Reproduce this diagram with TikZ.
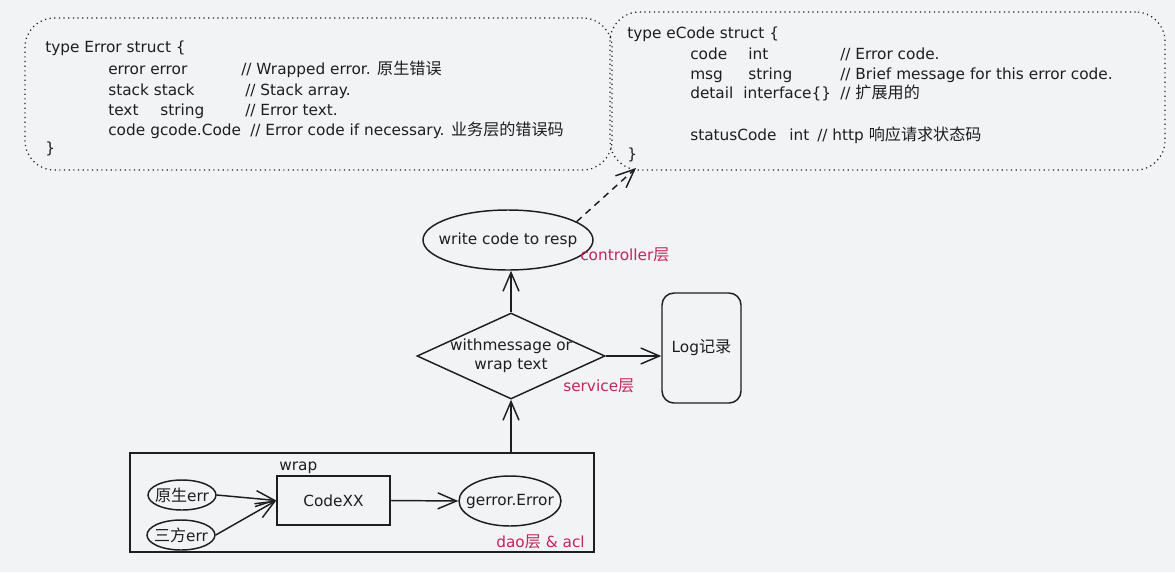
\documentclass[tikz,border=0pt]{standalone}
\usepackage{fontspec}
\setmainfont{DejaVu Sans}
\newfontfamily\cjk{Noto Sans CJK SC}[Scale=1.05]
\usetikzlibrary{shapes.geometric,arrows.meta}
\definecolor{bg}{HTML}{F2F3F5}
\definecolor{ink}{HTML}{1E1E1E}
\definecolor{pinkc}{HTML}{C2255C}
\begin{document}
\begin{tikzpicture}[x=0.75pt,y=-0.75pt,
  ln/.style={draw=ink,line width=1.1pt},
  arr/.style={ln,-{Straight Barb[length=14pt,width=12pt,line width=1.1pt]}},
  code/.style={anchor=base west,inner sep=0pt,font=\fontsize{11.5}{13}\selectfont,text=ink},
  lbl/.style={font=\fontsize{11.5}{14}\selectfont,text=ink,align=center},
  tag/.style={anchor=base west,inner sep=0pt,text=pinkc,font=\fontsize{11.5}{13}\selectfont},
  dotbox/.style={draw=ink,line width=0.9pt,dash pattern=on 0.9pt off 2.6pt,rounded corners=22pt,inner sep=0pt,outer sep=0pt}
]
\useasboundingbox (0,0) rectangle (1175,572);
\fill[bg] (0,0) rectangle (1175,572);

% struct boxes
\node[dotbox,minimum width=440.25pt,minimum height=114pt] (errbox) at (318.5,94) {};
\node[dotbox,minimum width=416.25pt,minimum height=118.5pt] (ecodebox) at (887.5,91) {};

% Error struct text
\node[code] (e0) at (45,52) {type Error struct \{};
\node[code] (e1a) at (108,74) {error error};
\node[code] (e1b) at (241,74) {// Wrapped error. {\cjk 原生错误}};
\node[code] (e2a) at (108,95) {stack stack};
\node[code] (e2b) at (245,95) {// Stack array.};
\node[code] (e3a) at (108,115) {text};
\node[code] (e3b) at (160,115) {string};
\node[code] (e3c) at (245,115) {// Error text.};
\node[code] (e4a) at (108,135) {code};
\node[code] (e4b) at (150,135) {gcode.Code};
\node[code] (e4c) at (250,135) {// Error code if necessary. {\cjk 业务层的错误码}};
\node[code] (e5) at (45,153) {\}};

% eCode struct text
\node[code] (c0) at (627,38) {type eCode struct \{};
\node[code] (c1a) at (690,59) {code};
\node[code] (c1b) at (748,59) {int};
\node[code] (c1c) at (840,59) {// Error code.};
\node[code] (c2a) at (690,79) {msg};
\node[code] (c2b) at (748,79) {string};
\node[code] (c2c) at (840,79) {// Brief message for this error code.};
\node[code] (c3a) at (690,98) {detail};
\node[code] (c3b) at (743,98) {interface\{\}};
\node[code] (c3c) at (840,98) {// {\cjk 扩展用的}};
\node[code] (c4a) at (690,140) {statusCode};
\node[code] (c4b) at (789,140) {int};
\node[code] (c4c) at (817,140) {// http {\cjk 响应请求状态码}};
\node[code] (c5) at (627,159) {\}};

% flow nodes
\node[ellipse,ln,lbl,minimum width=127.5pt,minimum height=45pt,inner ysep=0pt,inner xsep=-7pt] (resp) at (508,240) {write code to resp};
\node[tag] (ctrl) at (580,260) {controller{\cjk 层}};

\node[diamond,ln,lbl,aspect=2.2,minimum width=141pt,minimum height=64.5pt,inner sep=-1.5pt] (dia) at (511,356) {withmessage or\\wrap text};
\node[tag] (serv) at (563,391) {service{\cjk 层}};

\node[rectangle,ln,lbl,rounded corners=9pt,minimum width=59.25pt,minimum height=82.5pt] (log) at (701.5,348) {Log{\cjk 记录}};

\node[rectangle,ln,minimum width=348pt,minimum height=74.25pt] (dao) at (362,502.5) {};
\node[code] (wrap) at (279,470) {wrap};
\node[rectangle,ln,lbl,minimum width=84.75pt,minimum height=36.75pt] (code) at (333.5,500.5) {CodeXX};
\node[ellipse,ln,lbl,minimum width=51pt,minimum height=22.5pt,inner ysep=0pt,inner xsep=-3pt] (yuan) at (182,495) {{\cjk 原生}err};
\node[ellipse,ln,lbl,minimum width=51pt,minimum height=22.5pt,inner ysep=0pt,inner xsep=-3pt] (san) at (181,535) {{\cjk 三方}err};
\node[ellipse,ln,lbl,minimum width=76.5pt,minimum height=37.5pt,inner ysep=0pt,inner xsep=-6pt] (gerr) at (510,501) {gerror.Error};
\node[tag,anchor=base east] (daotag) at (585,547) {dao{\cjk 层} \& acl};

\coordinate (tip) at (636,168);

% connectors
\draw[arr] (yuan.east) -- (code.west);
\draw[arr] (san.east) -- (code.west);
\draw[arr] (code.east) -- (gerr.west);
\draw[arr] (dia.south |- dao.north) -- (dia.south);
\draw[arr] (dia.north) -- (dia.north |- resp.south);
\draw[arr] (dia.east) -- (dia.east -| log.west);
\draw[arr,dash pattern=on 5pt off 4pt] (resp.15) -- (tip);
\end{tikzpicture}
\end{document}
